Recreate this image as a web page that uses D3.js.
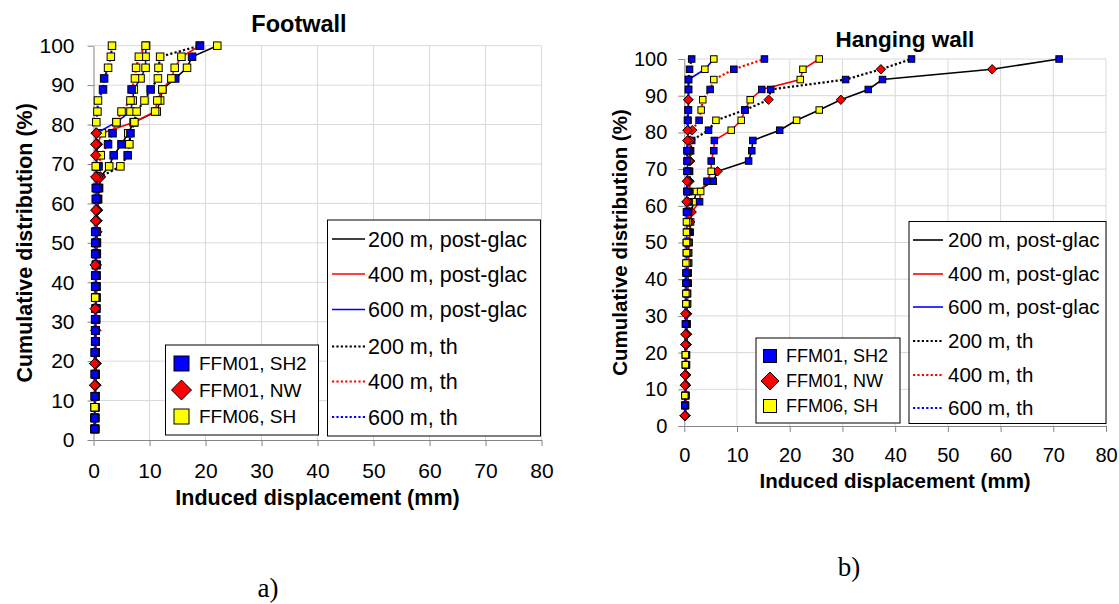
<!DOCTYPE html>
<html><head><meta charset="utf-8">
<script src="https://cdn.jsdelivr.net/npm/d3@7"></script>
<style>body{margin:0;background:#fff;} svg{display:block;font-family:'Liberation Sans',Arial,sans-serif;}</style>
</head><body>
<svg id="c" width="1119" height="604"></svg>
<script>
// ---------- data ----------
const cumPct = [2.8,5.6,8.3,11.1,13.9,16.7,19.4,22.2,25.0,27.8,30.6,33.3,36.1,38.9,41.7,44.4,47.2,50.0,52.8,55.6,58.3,61.1,63.9,66.7,69.4,72.2,75.0,77.8,80.6,83.3,86.1,88.9,91.7,94.4,97.2,100];
const xTicks = [0,10,20,30,40,50,60,70,80];
const yTicks = [0,10,20,30,40,50,60,70,80,90,100];
const seriesNames = ["200 m, post-glac","400 m, post-glac","600 m, post-glac","200 m, th","400 m, th","600 m, th"];
const sampleNames = ["FFM01, SH2","FFM01, NW","FFM06, SH"];
const sampleCodes = ["B","R","Y"];

// Footwall (mm) and sample code (B = FFM01 SH2, R = FFM01 NW, Y = FFM06 SH)
const fw200pg = [0.3,0.3,0.3,0.3,0.4,0.4,0.4,0.4,0.4,0.4,0.4,0.5,0.5,0.5,0.5,0.5,0.5,0.6,0.6,0.6,0.7,0.8,1.0,1.2,2.8,3.6,5.0,6.2,7.2,11.3,11.9,12.3,14.6,16.7,17.6,22.1];
const fw200pgSite = "BBYBRBRBBBBBYBBBBBBRRBBRYBBYYYYYBYBY";
const fw400pg = [0.3,0.3,0.3,0.3,0.3,0.4,0.4,0.4,0.4,0.4,0.4,0.4,0.5,0.5,0.5,0.5,0.5,0.5,0.5,0.5,0.6,0.6,0.6,0.6,0.6,0.6,0.7,1.5,7.2,11.0,11.4,12.3,13.9,14.5,15.7,19.0];
const fw400pgSite = "BBYBRBRBBRBBYBBRBBBRRBBRYRRYYYYYYYYB";
const fw600pg = [0.2,0.2,0.2,0.3,0.3,0.3,0.3,0.3,0.3,0.3,0.3,0.4,0.4,0.4,0.4,0.4,0.4,0.4,0.4,0.4,0.5,0.5,0.5,0.5,0.5,0.5,0.5,0.5,4.1,6.6,7.0,7.2,8.4,9.3,9.3,9.4];
const fw600pgSite = "BBYBRBRBBBBBYBBBBBBRRBBRBRRRYYYYYYYY";
const fw200th = [0.3,0.3,0.3,0.3,0.4,0.4,0.4,0.4,0.4,0.4,0.5,0.5,0.5,0.5,0.5,0.5,0.6,0.6,0.6,0.6,0.7,0.8,0.9,1.2,4.8,6.1,6.4,6.6,7.3,7.7,9.1,10.2,11.5,11.6,11.9,19.0];
const fw200thSite = "BBYBRBRBBBBBYBBBBBRRRBBRYBYBYYYBYYYB";
const fw400th = [0.2,0.2,0.3,0.3,0.3,0.3,0.3,0.3,0.4,0.4,0.4,0.4,0.4,0.4,0.4,0.5,0.5,0.5,0.5,0.5,0.6,0.6,0.7,0.8,0.9,1.3,2.6,3.4,4.1,5.0,6.6,6.8,7.4,7.6,8.1,9.3];
const fw400thSite = "BBYBRBRBBBBBYBBBBBBRRBBRBYBBYYYBYYYY";
const fw600th = [0.2,0.2,0.2,0.2,0.2,0.2,0.2,0.2,0.3,0.3,0.3,0.3,0.3,0.3,0.3,0.3,0.3,0.3,0.3,0.4,0.4,0.4,0.4,0.4,0.4,0.4,0.4,0.5,0.5,0.7,0.8,1.7,1.9,2.6,3.1,3.3];
const fw600thSite = "BBYBRBRBBBBRYBBRBBBRRBBRYRRRYYYBBYYY";

// Hanging wall
const hw200pg = [0.2,0.2,0.3,0.3,0.3,0.4,0.4,0.4,0.5,0.5,0.5,0.6,0.6,0.7,0.7,0.8,0.8,0.9,1.1,1.2,1.3,1.8,2.3,5.5,6.3,12.2,12.8,13.0,18.1,21.3,25.6,29.7,34.9,37.6,58.4,71.1];
const hw200pgSite = "RBYRRYYRRBRYYBBYYYBYRYYBRBBBBYYRBBRB";
const hw400pg = [0.2,0.2,0.3,0.3,0.3,0.4,0.4,0.4,0.5,0.5,0.5,0.6,0.6,0.7,0.7,0.8,0.8,0.9,1.0,1.1,1.4,2.9,3.1,4.3,5.1,5.1,5.6,5.7,8.9,10.8,11.5,12.5,14.7,22.0,22.5,25.6];
const hw400pgSite = "RBYRRYYRRBRYYBBYYYBRRBYBYBBBYYBYBYYY";
const hw600pg = [0.1,0.1,0.1,0.2,0.2,0.2,0.2,0.2,0.3,0.3,0.3,0.3,0.3,0.4,0.4,0.4,0.4,0.4,0.5,0.5,0.5,0.5,0.5,0.6,0.6,0.6,0.6,0.7,0.7,0.7,0.8,0.8,0.8,0.8,3.9,5.6];
const hw600pgSite = "RBYRRYYRRBRYYBBYYYBYBRBRBBBRRBBRBBYY";
const hw200th = [0.2,0.2,0.2,0.3,0.3,0.3,0.3,0.4,0.4,0.4,0.4,0.5,0.5,0.5,0.6,0.6,0.6,0.7,0.7,0.8,0.8,0.9,0.9,1.0,1.0,1.1,1.2,1.4,4.6,6.0,11.5,16.0,16.4,30.6,37.3,43.1];
const hw200thSite = "RBYRRYYRRBRYYBBYYYBYBBBRBRBBBYBRBBRB";
const hw400th = [0.1,0.2,0.2,0.2,0.3,0.3,0.3,0.3,0.4,0.4,0.4,0.4,0.5,0.5,0.5,0.5,0.6,0.6,0.6,0.7,0.7,0.7,0.8,0.8,0.9,0.9,1.0,1.1,1.5,2.8,3.2,3.5,4.9,5.6,9.4,15.2];
const hw400thSite = "RBYRRYYRRBRYYBBYYYBYBRBRBRBRRBYYBYBB";
const hw600th = [0.1,0.1,0.1,0.1,0.1,0.2,0.2,0.2,0.2,0.2,0.2,0.3,0.3,0.3,0.3,0.3,0.4,0.4,0.4,0.4,0.4,0.4,0.5,0.5,0.5,0.5,0.5,0.6,0.6,0.6,0.7,0.7,0.8,0.8,1.0,1.4];
const hw600thSite = "RBYRRYYRRBRYYBBYYYYYBRBRBBBRRBBRBBBB";

// ---------- styles ----------
const lineColors = ["#000000","#ff0000","#0000ff","#000000","#ff0000","#0000ff"];
const lineDotted = [false,false,false,true,true,true];
const siteFill = {B:"#0000ff", R:"#ff0000", Y:"#ffff00"};
const FONT = "'Liberation Sans', Arial, sans-serif";

const svg = d3.select("#c");

function drawMarker(g, code, cx, cy, sq, dia){
  if(code === "R"){
    g.append("path")
      .attr("d", `M${cx},${cy-dia}L${cx+dia},${cy}L${cx},${cy+dia}L${cx-dia},${cy}Z`)
      .attr("fill", siteFill.R).attr("stroke","#000").attr("stroke-width",1);
  } else {
    g.append("rect").attr("x",cx-sq/2).attr("y",cy-sq/2).attr("width",sq).attr("height",sq)
      .attr("fill", siteFill[code]).attr("stroke","#000").attr("stroke-width",1);
  }
}

function drawChart(o){
  const x = d3.scaleLinear().domain([0,80]).range([o.x0,o.x1]);
  const y = d3.scaleLinear().domain([0,100]).range([o.y0,o.y1]);
  const g = svg.append("g");

  // gridlines
  g.append("g").selectAll("line").data(xTicks.slice(1)).join("line")
    .attr("x1",d=>x(d)).attr("x2",d=>x(d)).attr("y1",y(0)).attr("y2",y(100))
    .attr("stroke","#d9d9d9").attr("stroke-width",1);
  g.append("g").selectAll("line").data(yTicks.slice(1)).join("line")
    .attr("x1",x(0)).attr("x2",x(80)).attr("y1",d=>y(d)).attr("y2",d=>y(d))
    .attr("stroke","#d9d9d9").attr("stroke-width",1);

  // axes
  const ax = g.append("g").attr("transform",`translate(0,${y(0)})`)
    .call(d3.axisBottom(x).tickValues(xTicks).tickSize(6).tickSizeOuter(0).tickPadding(o.xPad));
  const ay = g.append("g").attr("transform",`translate(${x(0)},0)`)
    .call(d3.axisLeft(y).tickValues(yTicks).tickSize(6).tickSizeOuter(0).tickPadding(o.yPad));
  [ax,ay].forEach(a=>{
    a.attr("font-size",o.tickFont).attr("font-family",FONT);
    a.select(".domain").attr("stroke","#868686");
    a.selectAll(".tick line").attr("stroke","#868686");
    a.selectAll("text").attr("font-family",FONT).attr("font-size",o.tickFont).attr("fill","#000");
  });

  // series
  const line = d3.line().x(d=>x(d[0])).y(d=>y(d[1]));
  o.series.forEach((s,i)=>{
    const pts = s.vals.map((v,k)=>[v,cumPct[k]]);
    g.append("path").datum(pts).attr("d",line).attr("fill","none")
      .attr("stroke",lineColors[i]).attr("stroke-width",lineDotted[i]?2.2:1.6)
      .attr("stroke-dasharray",lineDotted[i]?"2.2,2.2":null);
    const mg = g.append("g");
    pts.forEach((p,k)=>drawMarker(mg, s.site[k], x(p[0]), y(p[1]), o.sq, o.dia));
  });

  // title
  g.append("text").attr("x",o.titleX).attr("y",o.titleY).attr("text-anchor","middle")
    .attr("font-weight","bold").attr("font-size",o.titleFont).attr("font-family",FONT).text(o.title);
  // axis titles
  g.append("text").attr("x",(o.x0+o.x1)/2).attr("y",o.xTitleY).attr("text-anchor","middle")
    .attr("font-weight","bold").attr("font-size",o.axisFont).attr("font-family",FONT).text("Induced displacement (mm)");
  g.append("text").attr("transform",`translate(${o.yTitleX},${(o.y0+o.y1)/2}) rotate(-90)`)
    .attr("text-anchor","middle").attr("dy","0.35em")
    .attr("font-weight","bold").attr("font-size",o.axisFont).attr("font-family",FONT).text("Cumulative distribution (%)");

  // line legend
  const L = o.lineLeg;
  g.append("rect").attr("x",L.x).attr("y",L.y).attr("width",L.w).attr("height",L.h)
    .attr("fill","#fff").attr("stroke","#000").attr("stroke-width",1);
  seriesNames.forEach((n,i)=>{
    const yy = L.rows[i];
    g.append("line").attr("x1",L.lx1).attr("x2",L.lx2).attr("y1",yy).attr("y2",yy)
      .attr("stroke",lineColors[i]).attr("stroke-width",lineDotted[i]?2.2:1.6)
      .attr("stroke-dasharray",lineDotted[i]?"2.2,2.2":null);
    g.append("text").attr("x",L.tx).attr("y",yy).attr("dy","0.35em")
      .attr("font-size",L.font).attr("font-family",FONT).text(n);
  });

  // marker legend
  const M = o.markLeg;
  g.append("rect").attr("x",M.x).attr("y",M.y).attr("width",M.w).attr("height",M.h)
    .attr("fill","#fff").attr("stroke","#000").attr("stroke-width",1);
  sampleNames.forEach((n,i)=>{
    const yy = M.rows[i];
    drawMarker(g, sampleCodes[i], M.mx, yy, M.sq, M.dia);
    g.append("text").attr("x",M.tx).attr("y",yy).attr("dy","0.35em")
      .attr("font-size",M.font).attr("font-family",FONT).text(n);
  });
}

drawChart({
  x0:93.5, x1:541.5, y0:440, y1:45.7,
  xPad:17, yPad:13, tickFont:21, titleFont:23.5, axisFont:21.5,
  title:"Footwall", titleX:299, titleY:32, xTitleY:505, yTitleX:24,
  sq:7.5, dia:5.2,
  series:[
    {vals:fw200pg, site:fw200pgSite},{vals:fw400pg, site:fw400pgSite},{vals:fw600pg, site:fw600pgSite},
    {vals:fw200th, site:fw200thSite},{vals:fw400th, site:fw400thSite},{vals:fw600th, site:fw600thSite}],
  lineLeg:{x:327.5,y:220,w:213,h:216,rows:[239,274,309.5,346.5,381.5,417],lx1:332,lx2:365,tx:368,font:21.5},
  markLeg:{x:165.5,y:345,w:153,h:90,rows:[363.5,390,416.5],mx:181.5,tx:199,sq:15,dia:10,font:19}
});

drawChart({
  x0:684.3, x1:1106, y0:426, y1:59,
  xPad:16, yPad:11, tickFont:20, titleFont:22.5, axisFont:20.5,
  title:"Hanging wall", titleX:905, titleY:47, xTitleY:488, yTitleX:620,
  sq:6.5, dia:4.7,
  series:[
    {vals:hw200pg, site:hw200pgSite},{vals:hw400pg, site:hw400pgSite},{vals:hw600pg, site:hw600pgSite},
    {vals:hw200th, site:hw200thSite},{vals:hw400th, site:hw400thSite},{vals:hw600th, site:hw600thSite}],
  lineLeg:{x:909,y:221.5,w:197,h:202,rows:[240,274,307,341,375,408],lx1:913,lx2:943,tx:948,font:20.5},
  markLeg:{x:756,y:338,w:144,h:85,rows:[356,381,406],mx:770,tx:786,sq:13,dia:9,font:18}
});

// sub-figure labels
svg.append("text").attr("x",268).attr("y",597).attr("text-anchor","middle")
  .attr("font-family","'Liberation Serif','Times New Roman',serif").attr("font-size",27).text("a)");
svg.append("text").attr("x",849).attr("y",576).attr("text-anchor","middle")
  .attr("font-family","'Liberation Serif','Times New Roman',serif").attr("font-size",27).text("b)");
</script>
</body></html>
